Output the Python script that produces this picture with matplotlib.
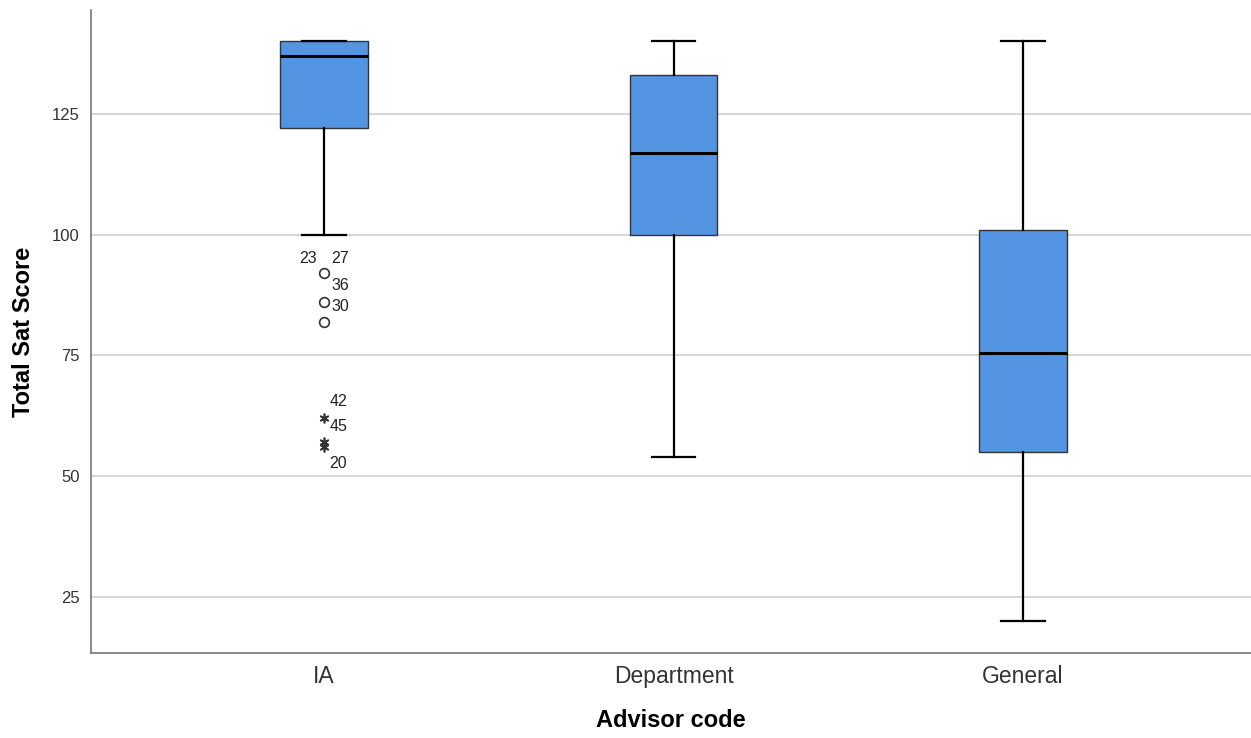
import numpy as np
import matplotlib.pyplot as plt

plt.rcParams['font.family'] = ['Liberation Sans', 'DejaVu Sans']

# Box statistics
groups = ['IA', 'Department', 'General']
whisker_low = [100, 54, 20]
q1 = [122, 100, 55]
median = [137, 117, 75.5]
q3 = [140, 133, 101]
whisker_high = [140, 140, 140]

# IA outliers: circles (mild) and stars (extreme)
mild_vals = [92, 86, 82]
extreme_vals = [62, 57, 56]
outlier_labels = [('23', 92, -0.07, 3.0), ('27', 92, 0.02, 3.0), ('36', 92, 0.02, -2.6),
                  ('30', 86, 0.02, -0.8), ('42', 62, 0.015, 3.5), ('45', 62, 0.015, -1.8),
                  ('20', 56, 0.015, -3.3)]

stats = []
for i, g in enumerate(groups):
    stats.append({'label': g, 'whislo': whisker_low[i], 'q1': q1[i], 'med': median[i],
                  'q3': q3[i], 'whishi': whisker_high[i], 'fliers': []})

fig = plt.figure(figsize=(12.51, 7.38), dpi=100)
ax = fig.add_axes([0.0727, 0.1152, 0.9273, 0.8712])

ax.grid(axis='y', color='#cfcfcf', linewidth=1.2, zorder=0)
ax.set_axisbelow(True)

ax.bxp(stats, positions=[1, 2, 3], widths=0.25, patch_artist=True, showfliers=False,
       boxprops=dict(facecolor='#5495e3', edgecolor='#333333', linewidth=1.0),
       medianprops=dict(color='black', linewidth=2.2),
       whiskerprops=dict(color='black', linewidth=1.6),
       capprops=dict(color='black', linewidth=1.6), capwidths=0.125)

ax.plot([1] * len(mild_vals), mild_vals, 'o', mfc='none', mec='#333333', ms=7, mew=1.2)
ax.plot([1] * len(extreme_vals), extreme_vals, marker=(6, 2, 0), ls='none',
        color='#333333', ms=7, mew=1.2)

for txt, y, dx, dy in outlier_labels:
    ax.text(1 + dx, y + dy, txt, fontsize=11.5, ha='left', va='center', color='#222222')

ax.set_xlim(0.333, 3.652)
ax.set_ylim(13.4, 146.5)
ax.set_yticks([25, 50, 75, 100, 125])
ax.set_xticks([1, 2, 3])
ax.set_xticklabels(groups)
ax.tick_params(axis='y', length=0, labelsize=12, labelcolor='#333333', pad=8)
ax.tick_params(axis='x', length=0, labelsize=16.5, labelcolor='#333333', pad=9)

for s in ['top', 'right']:
    ax.spines[s].set_visible(False)
for s in ['left', 'bottom']:
    ax.spines[s].set_color('#777777')
    ax.spines[s].set_linewidth(1.2)

ax.set_xlabel('Advisor code', fontsize=17, fontweight='bold', labelpad=15)
ax.set_ylabel('Total Sat Score', fontsize=17, fontweight='bold', labelpad=12)

fig.savefig('out.png', dpi=100)
